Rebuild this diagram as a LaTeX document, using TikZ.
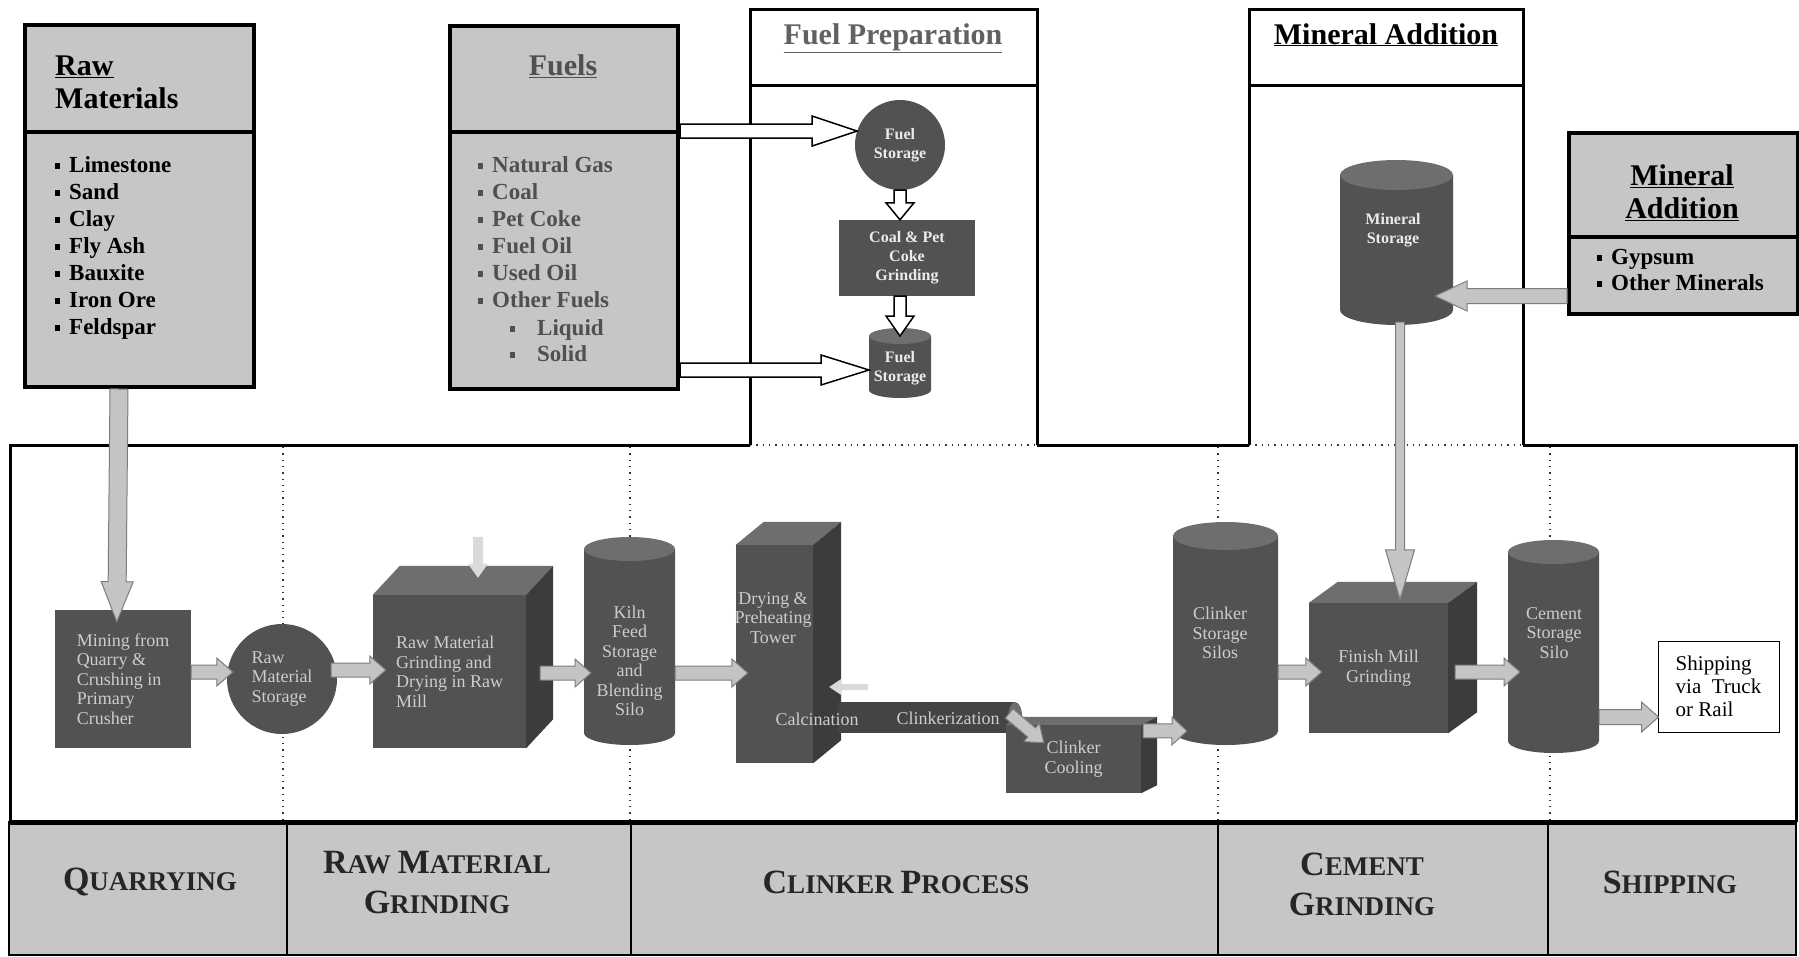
\documentclass[tikz,border=0pt]{standalone}
\usepackage{fontspec}
\setmainfont{Liberation Serif}
\usetikzlibrary{calc}
\definecolor{panel}{RGB}{198,198,198}
\definecolor{unit}{RGB}{82,82,82}
\definecolor{unittop}{RGB}{110,110,110}
\definecolor{unitside}{RGB}{60,60,60}
\definecolor{kilncol}{RGB}{68,68,68}
\definecolor{unittext}{RGB}{205,205,205}
\definecolor{flowfill}{RGB}{196,196,196}
\definecolor{flowline}{RGB}{125,125,125}
\definecolor{fadeflow}{RGB}{218,218,218}
\definecolor{fueltext}{RGB}{80,80,80}

\newcommand\sqbullet{\rule[3pt]{5pt}{6pt}\hspace{9pt}}
\newcommand\capL[1]{{\fontsize{34}{40}\selectfont #1}}
% fat arrow from #2 to #3: shaft half width, head half width, head length
\newcommand\blockarrow[6]{%
  \coordinate (ba-s) at (#2);
  \coordinate (ba-t) at (#3);
  \coordinate (ba-h) at ($(ba-t)!#6!(ba-s)$);
  \path[#1] ($(ba-s)!#4!90:(ba-t)$) -- ($(ba-h)!#4!-90:(ba-s)$) -- ($(ba-h)!#5!-90:(ba-s)$)
    -- (ba-t) -- ($(ba-h)!#5!90:(ba-s)$) -- ($(ba-h)!#4!90:(ba-s)$) -- ($(ba-s)!#4!-90:(ba-t)$) -- cycle;}
% top and side faces of a box whose front face is node #1
\newcommand\cubefaces[3]{%
  \fill[unittop] (#1.north west) -- ++(#2,-#3) -- ($(#1.north east)+(#2,-#3)$) -- (#1.north east) -- cycle;
  \fill[unitside] (#1.north east) -- ++(#2,-#3) -- ($(#1.south east)+(#2,-#3)$) -- (#1.south east) -- cycle;}
% silo drawn round the body node #1, cap radius #2
\newcommand\silobody[2]{%
  \fill[unit] let \p1=($(#1.east)-(#1.west)$) in (#1.north west) -- (#1.south west)
    arc[start angle=180, end angle=360, x radius=0.5*\x1, y radius=#2] -- (#1.north east) -- cycle;
  \fill[unittop] let \p1=($(#1.east)-(#1.west)$) in (#1.north) ellipse[x radius=0.5*\x1, y radius=#2];}

\begin{document}
\begin{tikzpicture}[x=1pt, y=-1pt, line join=miter,
  panelbox/.style={draw=black, line width=4pt, fill=panel, anchor=north west, inner sep=0},
  procframe/.style={line width=3pt, black},
  sepline/.style={line width=1.3pt, dash pattern=on 1.3pt off 5pt, black!80},
  headtext/.style={font=\fontsize{30}{33}\selectfont\bfseries, inner sep=0},
  listtext/.style={font=\fontsize{23}{27}\selectfont\bfseries, inner sep=0, anchor=base west},
  unitbox/.style={fill=unit, inner sep=0, text=unittext, font=\fontsize{18}{19.5}\selectfont, align=left},
  unitlabel/.style={text=unittext, font=\fontsize{18}{19.5}\selectfont, align=center, inner sep=0},
  bodybox/.style={inner sep=0, outer sep=0},
  fuelunit/.style={fill=unit, inner sep=0, text=white!92!black, font=\fontsize{16}{19}\selectfont\bfseries, align=center},
  hollowarrow/.style={fill=white, draw=black, line width=1.5pt},
  flowarrow/.style={fill=flowfill, draw=flowline, line width=1pt},
  faintarrow/.style={fill=fadeflow},
  stagetext/.style={font=\fontsize{27}{40}\selectfont\bfseries, text=black!85, align=center, inner sep=0},
]
\fill[white] (0,0) rectangle (1799,956);
\useasboundingbox (0,0) rectangle (1799,956);

% Stage separators and frames
\foreach \x in {283,630,1218,1550}
  \draw[sepline] (\x,447) -- (\x,820);
\draw[procframe] (750,445) -- (10,445) -- (10,822);
\draw[procframe] (1037,445) -- (1249,445);
\draw[procframe] (1523,445) -- (1796,445) -- (1796,822);
\draw[sepline] (750,445) -- (1037,445) (1249,445) -- (1523,445);
\draw[procframe] (750,445) -- (750,9) -- (1037,9) -- (1037,445) (750,85) -- (1037,85);
\draw[procframe] (1249,445) -- (1249,9) -- (1523,9) -- (1523,445) (1249,85) -- (1523,85);
\node[headtext, anchor=base, text=fueltext!90] (fptitle) at (893,44) {\underline{Fuel Preparation}};
\node[headtext, anchor=base] (matitle) at (1386,44) {\underline{Mineral Addition}};

% Input panels
\node[panelbox, minimum width=229, minimum height=107] (rawhead) at (23,23) {};
\node[panelbox, minimum width=229, minimum height=255] (rawlist) at (23,130) {};
\node[panelbox, minimum width=228, minimum height=106] (fuelhead) at (448,24) {};
\node[panelbox, minimum width=228, minimum height=257] (fuellist) at (448,130) {};
\node[panelbox, minimum width=229, minimum height=104] (minhead) at (1567,131) {};
\node[panelbox, minimum width=229, minimum height=77] (minlist) at (1567,235) {};
\node[headtext, anchor=west, align=left] (rawtitle) at (55,82) {\underline{Raw}\\Materials};
\node[headtext, anchor=base, text=fueltext] (fuelstitle) at (563,75) {\underline{Fuels}};
\node[headtext, align=center] (mintitle) at (1682,193) {\underline{Mineral}\\\underline{Addition}};
\foreach \entry [count=\i] in {Limestone,Sand,Clay,Fly Ash,Bauxite,Iron Ore,Feldspar}
  \node[listtext] (rawitem\i) at (55,145+27*\i) {\sqbullet\entry};
\foreach \entry [count=\i] in {Natural Gas,Coal,Pet Coke,Fuel Oil,Used Oil,Other Fuels}
  \node[listtext, text=fueltext] (fuelitem\i) at (478,145+27*\i) {\sqbullet\entry};
\node[listtext, text=fueltext] (liquid) at (510,335) {\rule[3pt]{5pt}{6pt}\hspace{22pt}Liquid};
\node[listtext, text=fueltext] (solid) at (510,361) {\rule[3pt]{5pt}{6pt}\hspace{22pt}Solid};
\node[listtext] (gypsum) at (1597,264) {\sqbullet Gypsum};
\node[listtext] (otherminerals) at (1597,290) {\sqbullet Other Minerals};

% Fuel preparation
\node[fuelunit, circle, minimum size=90] (fuelstore) at (900,145) {Fuel\\Storage};
\node[fuelunit, minimum width=136, minimum height=76] (coalgrind) at (907,258) {Coal \& Pet\\Coke\\Grinding};
\node[bodybox, minimum width=62, minimum height=54] (fuelsilo) at (900,363) {};
\silobody{fuelsilo}{8pt}
\node[fuelunit, fill=none] (fuelsilotext) at (900,368) {Fuel\\Storage};
\coordinate (fs-in) at ($(fuelsilo.west)+(0,7)$);
\blockarrow{hollowarrow}{fuelhead.south east |- fuelstore.162}{fuelstore.162}{7pt}{15pt}{45pt}
\blockarrow{hollowarrow}{fuellist.east |- fs-in}{fs-in}{7pt}{15pt}{48pt}
\blockarrow{hollowarrow}{fuelstore.south}{fuelstore.south |- coalgrind.north}{6pt}{14pt}{17pt}
\blockarrow{hollowarrow}{coalgrind.south -| fuelsilo.north}{fuelsilo.north}{6pt}{14pt}{20pt}

% Mineral addition
\node[bodybox, minimum width=113, minimum height=135] (minsilo) at (1396.5,242.5) {};
\silobody{minsilo}{15pt}
\node[fuelunit, fill=none] (minsilotext) at (1393,230) {Mineral\\Storage};
\coordinate (min-in) at ($(minsilo.south east)+(-18,-14)$);
\blockarrow{flowarrow}{minlist.west |- min-in}{min-in}{7.5pt}{15pt}{32pt}

% Process units
\node[unitbox, minimum width=136, minimum height=138] (mining) at (123,679) {Mining from\\Quarry \&\\Crushing in\\Primary\\Crusher};
\node[unitbox, circle, minimum size=110] (rawstore) at (282,679) {Raw\\Material\\Storage};
\node[unitbox, minimum width=153, minimum height=153] (rawgrind) at (449.5,671.5) {Raw Material\\Grinding and\\Drying in Raw\\Mill};
\cubefaces{rawgrind}{27}{29}
\node[bodybox, minimum width=91, minimum height=184] (kilnfeed) at (629.5,641) {};
\silobody{kilnfeed}{12pt}
\node[unitlabel] (kilnfeedtext) at (629.5,661) {Kiln\\Feed\\Storage\\and\\Blending\\Silo};
\node[unitbox, minimum width=77, minimum height=218] (tower) at (774.5,654) {};
\cubefaces{tower}{28}{23}
\node[unitlabel] (towertext) at (773,618) {Drying \&\\Preheating\\Tower};
\node[unitbox, fill=kilncol, minimum width=177, minimum height=31] (kiln) at (926.5,717.5) {};
\fill[unittop] (kiln.east) ellipse[x radius=7pt, y radius=15.5pt];
\node[unitlabel] (calcination) at (817,719) {Calcination};
\node[unitlabel] (clinkerization) at (948,718) {Clinkerization};
\node[unitbox, align=center, minimum width=135, minimum height=68] (cooler) at (1073.5,759) {Clinker\\Cooling};
\cubefaces{cooler}{16}{8}
\node[bodybox, minimum width=105, minimum height=195] (clinkersilo) at (1225.5,633.5) {};
\silobody{clinkersilo}{14pt}
\node[unitlabel] (clinkersilotext) at (1220,633) {Clinker\\Storage\\Silos};
\node[unitbox, align=center, minimum width=139, minimum height=130] (finish) at (1378.5,668) {Finish Mill\\Grinding};
\cubefaces{finish}{29}{21}
\node[bodybox, minimum width=91, minimum height=189] (cementsilo) at (1553.5,646.5) {};
\silobody{cementsilo}{12pt}
\node[unitlabel] (cementsilotext) at (1554,633) {Cement\\Storage\\Silo};
\node[draw=black, line width=1pt, fill=white, minimum width=121, minimum height=91, inner sep=0,
  align=left, font=\fontsize{21}{23}\selectfont] (shipping) at (1718.5,686.5) {Shipping\\via\ \ Truck\\or Rail};

% Material flow
\blockarrow{flowarrow}{$(rawlist.south west)+(96,0)$}{$(mining.north west)+(62,12)$}{9pt}{16pt}{40pt}
\blockarrow{flowarrow}{$(minsilo.south)+(3.5,12)$}{$(finish.north)+(21.5,-3)$}{4.5pt}{14.5pt}{50pt}
\blockarrow{flowarrow}{$(mining.east)+(0,-7)$}{$(rawstore.west)+(6,-7)$}{7pt}{14pt}{16pt}
\blockarrow{flowarrow}{$(rawstore.east)+(-6,-9)$}{$(rawgrind.west)+(13,-1.5)$}{7pt}{14pt}{16pt}
\blockarrow{flowarrow}{$(rawgrind.east)+(14,1.5)$}{$(kilnfeed.west)+(7,32)$}{7pt}{14pt}{16pt}
\blockarrow{flowarrow}{$(kilnfeed.east)+(0,32)$}{$(tower.west)+(12,19)$}{7pt}{14pt}{16pt}
\blockarrow{flowarrow}{$(kiln.east)+(-6,-4)$}{$(cooler.north west)+(38,18)$}{6pt}{12pt}{16pt}
\blockarrow{flowarrow}{$(cooler.north east)+(2,6)$}{$(clinkersilo.south west)+(14,0)$}{7pt}{14pt}{15pt}
\blockarrow{flowarrow}{$(clinkersilo.east)+(0,38.5)$}{$(finish.west)+(13,4)$}{7pt}{14pt}{16pt}
\blockarrow{flowarrow}{$(finish.east)+(7,4)$}{$(cementsilo.west)+(12,25.5)$}{7pt}{14pt}{16pt}
\blockarrow{flowarrow}{$(cementsilo.east)+(0,70.5)$}{$(shipping.west)+(1,30.5)$}{7.5pt}{15pt}{17pt}
\blockarrow{faintarrow}{$(rawgrind.north)+(28.5,-58)$}{$(rawgrind.north)+(28.5,-17)$}{5pt}{10pt}{14pt}
\blockarrow{faintarrow}{$(tower.east)+(55,33)$}{$(tower.east)+(16,33)$}{3pt}{8pt}{12pt}

% Stage band
\fill[panel] (9,822) rectangle (1796,955);
\draw[line width=2pt] (9,822) rectangle (1796,955);
\draw[line width=5pt] (9,822) -- (1796,822);
\foreach \x in {287,631,1218,1548}
  \draw[line width=2.5pt] (\x,822) -- (\x,955);
\node[stagetext] (quarrying) at (150,882) {\capL{Q}UARRYING};
\node[stagetext] (rawgrinding) at (437,883) {\capL{R}AW \capL{M}ATERIAL\\\capL{G}RINDING};
\node[stagetext] (clinkering) at (896,882) {\capL{C}LINKER \capL{P}ROCESS};
\node[stagetext] (cementgrinding) at (1362,884) {\capL{C}EMENT\\\capL{G}RINDING};
\node[stagetext] (shippingstage) at (1670,882) {\capL{S}HIPPING};
\end{tikzpicture}
\end{document}
